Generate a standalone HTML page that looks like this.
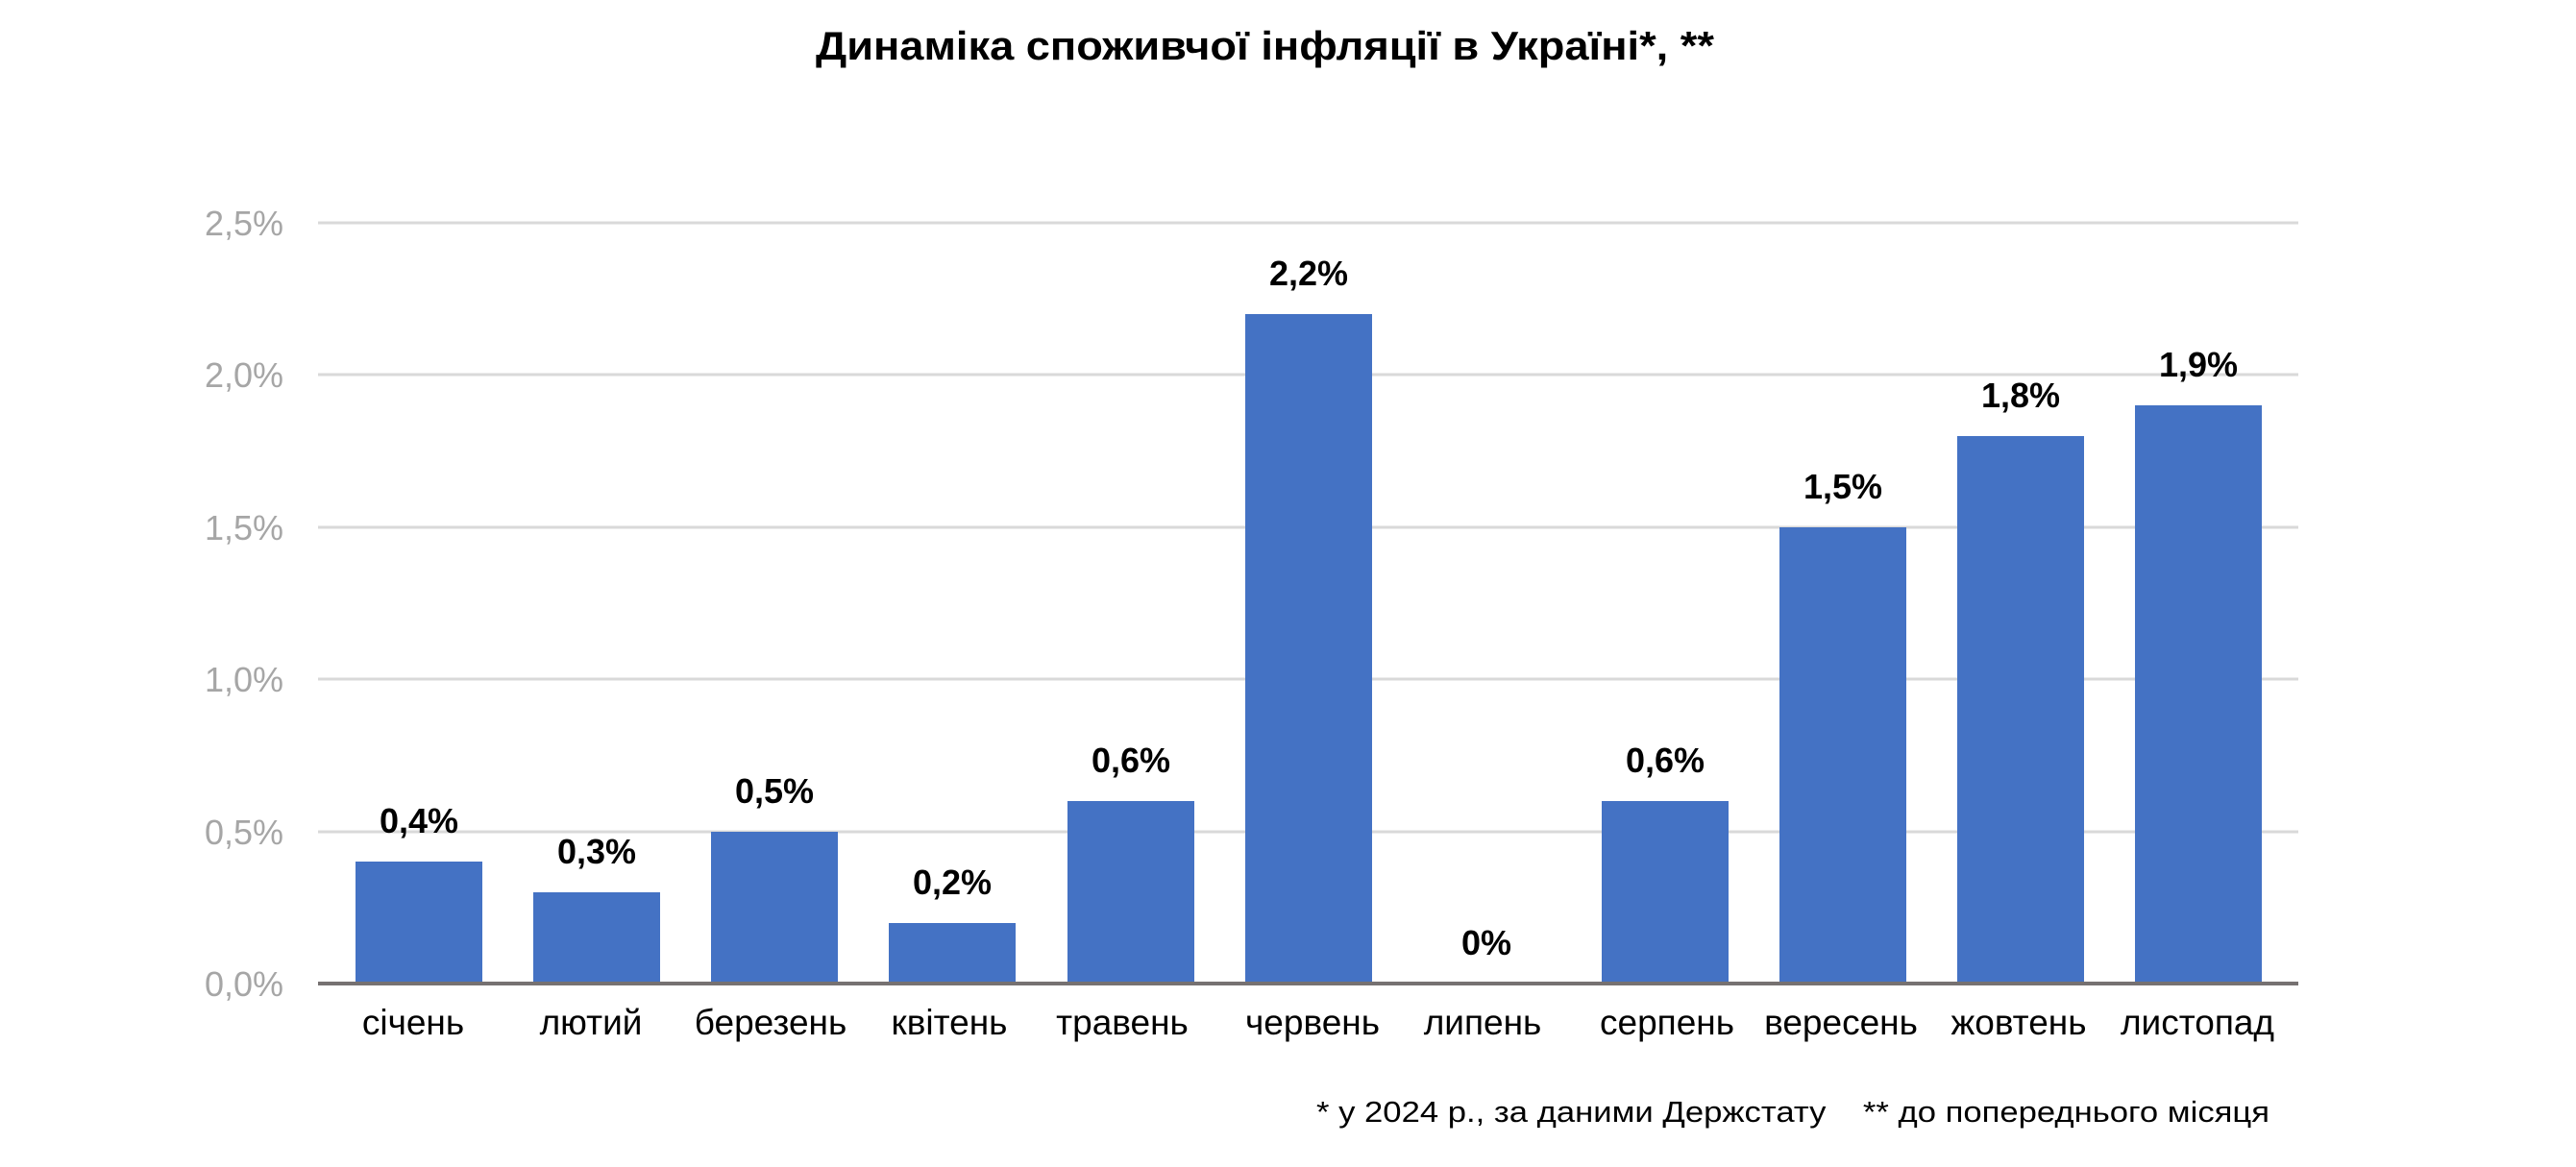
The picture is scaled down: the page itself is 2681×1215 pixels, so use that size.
<!DOCTYPE html>
<html><head><meta charset="utf-8"><style>
html,body{margin:0;padding:0;background:#fff;}
svg{display:block;font-family:"Liberation Sans","DejaVu Sans",sans-serif;}
</style></head><body>
<svg width="2681" height="1215" viewBox="0 0 2681 1215" xmlns="http://www.w3.org/2000/svg">
<rect width="2681" height="1215" fill="#fff"/>
<text x="849" y="62" textLength="935" lengthAdjust="spacingAndGlyphs" font-size="42" font-weight="bold" fill="#000">Динаміка споживчої інфляції в Україні*, **</text>
<g stroke="#d9d9d9" stroke-width="3">
<line x1="331" y1="232" x2="2392" y2="232"/>
<line x1="331" y1="390" x2="2392" y2="390"/>
<line x1="331" y1="549" x2="2392" y2="549"/>
<line x1="331" y1="707" x2="2392" y2="707"/>
<line x1="331" y1="866" x2="2392" y2="866"/>
</g>
<g font-size="36" fill="#a6a6a6" text-anchor="end">
<text x="295" y="245">2,5%</text>
<text x="295" y="403">2,0%</text>
<text x="295" y="562">1,5%</text>
<text x="295" y="720">1,0%</text>
<text x="295" y="879">0,5%</text>
<text x="295" y="1037">0,0%</text>
</g>
<g fill="#4472c4" transform="translate(0,0)">
<rect x="370" y="897" width="132" height="127"/>
<rect x="555" y="929" width="132" height="95"/>
<rect x="740" y="866" width="132" height="158"/>
<rect x="925" y="961" width="132" height="63"/>
<rect x="1111" y="834" width="132" height="190"/>
<rect x="1296" y="327" width="132" height="697"/>
<rect x="1667" y="834" width="132" height="190"/>
<rect x="1852" y="549" width="132" height="475"/>
<rect x="2037" y="454" width="132" height="570"/>
<rect x="2222" y="422" width="132" height="602"/>
</g>
<line x1="331" y1="1024" x2="2392" y2="1024" stroke="#767171" stroke-width="4"/>
<g font-size="36" font-weight="bold" fill="#000" text-anchor="middle">
<text x="436" y="867">0,4%</text>
<text x="621" y="899">0,3%</text>
<text x="806" y="836">0,5%</text>
<text x="991" y="931">0,2%</text>
<text x="1177" y="804">0,6%</text>
<text x="1362" y="297">2,2%</text>
<text x="1547" y="994">0%</text>
<text x="1733" y="804">0,6%</text>
<text x="1918" y="519">1,5%</text>
<text x="2103" y="424">1,8%</text>
<text x="2288" y="392">1,9%</text>
</g>
<g font-size="37" fill="#000" text-anchor="middle">
<text x="430" y="1077">січень</text>
<text x="615" y="1077">лютий</text>
<text x="802" y="1077">березень</text>
<text x="988" y="1077">квітень</text>
<text x="1168" y="1077">травень</text>
<text x="1366" y="1077">червень</text>
<text x="1543" y="1077">липень</text>
<text x="1735" y="1077">серпень</text>
<text x="1916" y="1077">вересень</text>
<text x="2101" y="1077">жовтень</text>
<text x="2287" y="1077">листопад</text>
</g>
<text x="1370" y="1168" textLength="992" lengthAdjust="spacingAndGlyphs" font-size="31" fill="#000">* у 2024 р., за даними Держстату &#160;&#160;&#160;** до попереднього місяця</text>
</svg>
</body></html>
